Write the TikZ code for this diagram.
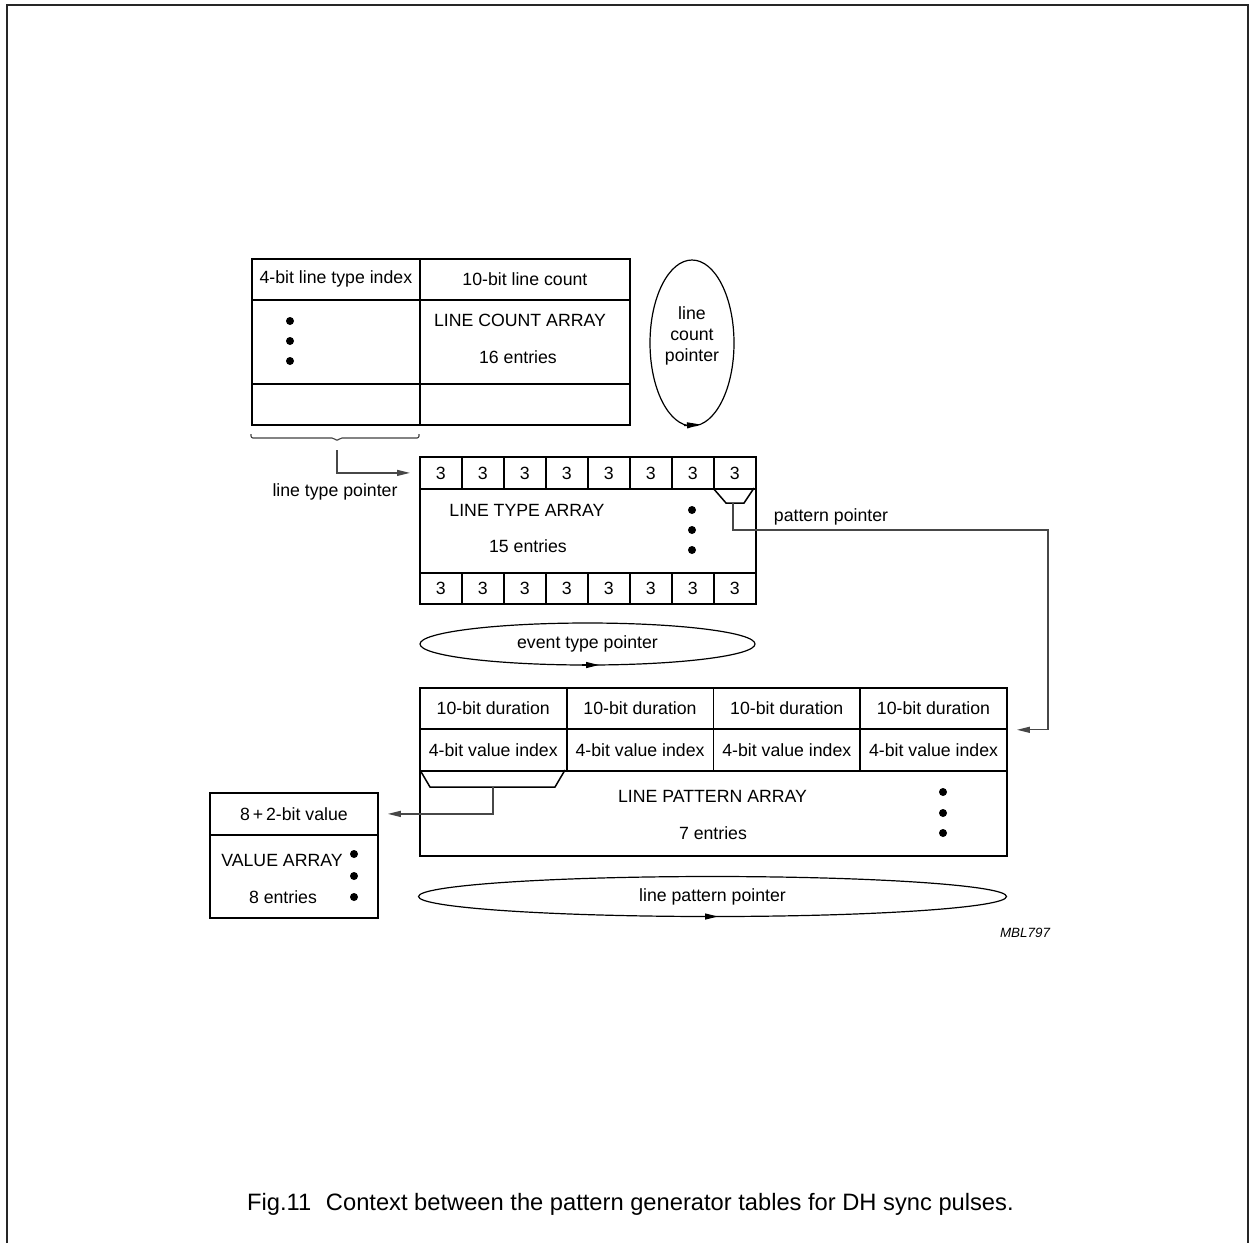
\documentclass[tikz,border=0pt]{standalone}
\usepackage{fontspec}
\setmainfont{Liberation Sans}
\usetikzlibrary{arrows.meta,shapes.geometric}
\begin{document}
\begin{tikzpicture}[x=1pt,y=-1pt,
  tbl/.style={draw, line width=1.8pt, rectangle, inner sep=0pt, anchor=north west, font=\fontsize{17.7}{21}\selectfont},
  lbl/.style={inner sep=0pt, font=\fontsize{17.7}{21}\selectfont},
  ell/.style={line width=1.2pt},
  conn/.style={draw=black!72, line width=1.3pt},
  arr/.style={-{Triangle[length=13pt,width=6pt]}},
  dotc/.style={fill=black}
]
\useasboundingbox (0,0) rectangle (1249,1243);
% frame
\draw[line width=2pt, black!85] (7,1243) -- (7,5) -- (1247.5,5) -- (1247.5,1243);

% ---------- line count array ----------
\node[tbl, minimum width=168pt, minimum height=41pt] (lcA) at (251,258) {4-bit line type index};
\node[tbl, minimum width=210pt, minimum height=41pt] (lcB) at (419,258) {10-bit line count};
\node[tbl, minimum width=168pt, minimum height=84pt] (lcC) at (251,299) {};
\node[tbl, minimum width=210pt, minimum height=84pt] (lcD) at (419,299) {};
\node[tbl, minimum width=168pt, minimum height=41pt] (lcE) at (251,383) {};
\node[tbl, minimum width=210pt, minimum height=41pt] (lcF) at (419,383) {};
\node[lbl] (lcT1) at (520,320) {LINE COUNT ARRAY};
\node[lbl] (lcT2) at (518,357) {16 entries};
\fill[dotc] (290,321) circle[radius=4pt] (290,341) circle[radius=4pt] (290,361) circle[radius=4pt];

% line count pointer
\node[draw, ellipse, ell, minimum width=84pt, minimum height=166pt, inner sep=0pt] (lcp) at (692,343) {};
\node[lbl, align=center] (lcpT) at (692,336) {line\\count\\pointer};
\draw[ell, arr] (684,425.6) -- (700,424.4);

% brace and line type pointer
\draw[line width=1.1pt, black!75, rounded corners=2pt] (251,434) -- (251,438) -- (334,438) -- (337,441) -- (340,438) -- (419,438) -- (419,434);
\coordinate (ltpS) at (337,450);

% ---------- line type array ----------
\foreach \i in {0,...,7} {
  \node[tbl, minimum width=42pt, minimum height=32pt] (lt\i) at ({419+42*\i},456) {3};
  \node[tbl, minimum width=42pt, minimum height=31pt] (lb\i) at ({419+42*\i},572) {3};
}
\node[tbl, minimum width=336pt, minimum height=84pt] (ltM) at (419,488) {};
\node[lbl] (ltT1) at (527,510) {LINE TYPE ARRAY};
\node[lbl] (ltT2) at (528,546) {15 entries};
\fill[dotc] (692,510) circle[radius=4pt] (692,530) circle[radius=4pt] (692,550) circle[radius=4pt];
\draw[line width=1.5pt] (713,488) -- (726,503) -- (744,503) -- (754,488);
\coordinate (ppS) at (733,503);
\coordinate (ppC) at (1048,530);

\draw[conn, arr, shorten >=9pt] (ltpS) |- (lt0.west);
\node[lbl] (ltpT) at (335,492) {line type pointer};
\node[lbl] (ppT) at (831,517) {pattern pointer};

% event type pointer
\node[draw, ellipse, ell, minimum width=335pt, minimum height=42pt, lbl] (etp) at (587.5,644) {event type pointer};
\draw[ell, arr] (582,665) -- (599,665);

% ---------- line pattern array ----------
\foreach \i in {0,...,3} {
  \node[tbl, minimum width=146.75pt, minimum height=41pt] (lpd\i) at ({419+146.75*\i},687) {10-bit duration};
  \node[tbl, minimum width=146.75pt, minimum height=42pt] (lpv\i) at ({419+146.75*\i},728) {4-bit value index};
}
\node[tbl, minimum width=587pt, minimum height=85pt] (lpM) at (419,770) {};
\node[lbl] (lpT1) at (712.5,796) {LINE PATTERN ARRAY};
\node[lbl] (lpT2) at (713,833) {7 entries};
\fill[dotc] (943,792) circle[radius=4pt] (943,813) circle[radius=4pt] (943,833) circle[radius=4pt];
\draw[line width=1.5pt] (420,770) -- (430,787) -- (555,787) -- (565,770);
\coordinate (vpS) at (493,787);

\draw[conn, arr, shorten >=9pt] (ppS) |- (ppC) |- (lpd3.south east);

% ---------- value array ----------
\node[tbl, minimum width=168pt, minimum height=42pt] (vaH) at (209,792) {8\,+\,2-bit value};
\node[tbl, minimum width=168pt, minimum height=83pt] (vaB) at (209,834) {};
\node[lbl] (vaT1) at (282,860) {VALUE ARRAY};
\node[lbl] (vaT2) at (283,897) {8 entries};
\fill[dotc] (354,854) circle[radius=4pt] (354,876) circle[radius=4pt] (354,897) circle[radius=4pt];

\draw[conn, arr, shorten >=9pt] (vpS) |- (vaH.east);

% line pattern pointer
\node[draw, ellipse, ell, minimum width=588pt, minimum height=40pt, lbl] (lpp) at (712.5,896.5) {line pattern pointer};
\draw[ell, arr] (701,916.5) -- (718,916.5);

\node[inner sep=0pt, font=\fontsize{13.4}{16}\selectfont\itshape] (mbl) at (1025,933) {MBL797};

\node[anchor=base west, inner sep=0pt, font=\fontsize{23.7}{28}\selectfont] (cap) at (247,1210) {Fig.11\hspace{0.62em}Context between the pattern generator tables for DH sync pulses.};
\end{tikzpicture}
\end{document}
